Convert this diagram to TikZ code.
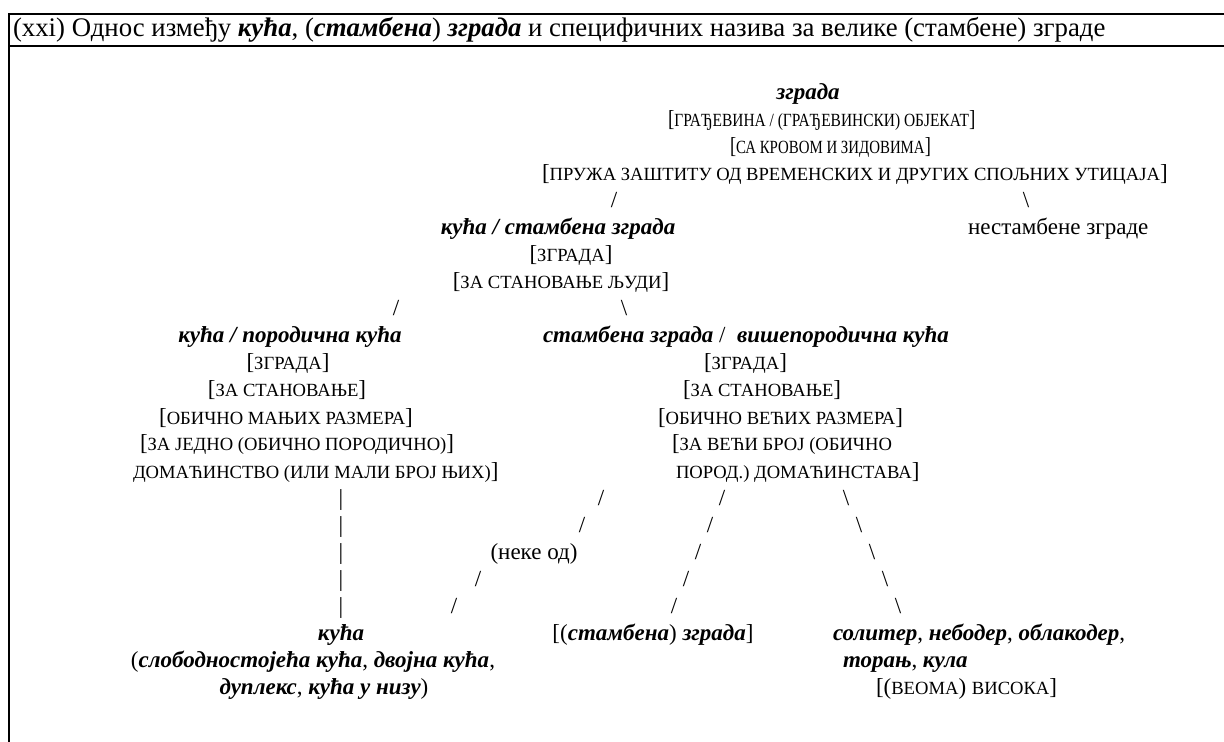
\documentclass[tikz,border=0pt]{standalone}
\usepackage{fontspec}
\setmainfont{Liberation Serif}[Script=Cyrillic,Language=Serbian]
\newcommand\smc[1]{{\fontsize{9.3}{11}\selectfont #1}}
\newcommand\bi[1]{{\bfseries\itshape #1}}
\tikzset{
  txt/.style={inner sep=0pt, outer sep=0pt, font=\fontsize{11.5}{13.5}\selectfont},
  bw/.style={txt, anchor=base west},
  bc/.style={txt, anchor=base},
  frame/.style={line width=1pt, line cap=rect}
}
\begin{document}
\begin{tikzpicture}[x=0.5pt,y=-0.5pt]
\useasboundingbox (0,0) rectangle (1224,742);
% frame
\draw[frame] (1224,14) -- (9,14) -- (9,742);
\draw[frame] (9,46) -- (1224,46);
% title
\node[bw, font=\fontsize{13.4}{15}\selectfont] (title) at (13,37) {(xxi) Однос између \bi{кућа}, (\bi{стамбена}) \bi{зграда} и специфичних назива за велике (стамбене) зграде};
% top block
\node[bc] (zgr) at (808,100) {\bi{зграда}};
\node[bw] (zgr1) at (668,127) {\scalebox{0.83}[1]{[\smc{ГРАЂЕВИНА / (ГРАЂЕВИНСКИ) ОБЈЕКАТ}]}};
\node[bw] (zgr2) at (730,154) {\scalebox{0.8}[1]{[\smc{СА КРОВОМ И ЗИДОВИМА}]}};
\node[bw] (zgr3) at (542,181) {[\smc{ПРУЖА ЗАШТИТУ ОД ВРЕМЕНСКИХ И ДРУГИХ СПОЉНИХ УТИЦАЈА}]};
\node[bc] (s1) at (614,208) {/};
\node[bc] (s2) at (1026,208) {\textbackslash};
% second level
\node[bc] (ks) at (558,235) {\bi{кућа / стамбена зграда}};
\node[bw] (nz) at (968,235) {нестамбене зграде};
\node[bc] (ks1) at (571,262) {[\smc{ЗГРАДА}]};
\node[bc] (ks2) at (561,289) {[\smc{ЗА СТАНОВАЊЕ ЉУДИ}]};
\node[bc] (s3) at (396,316) {/};
\node[bc] (s4) at (624,316) {\textbackslash};
% third level
\node[bc] (pk) at (290,343) {\bi{кућа / породична кућа}};
\node[bw] (sz) at (543,343) {\bi{стамбена зграда} /\ \ \bi{вишепородична кућа}};
\node[bc] (pk1) at (288,370) {[\smc{ЗГРАДА}]};
\node[bc] (pk2) at (287,397) {[\smc{ЗА СТАНОВАЊЕ}]};
\node[bc] (pk3) at (286,424) {[\smc{ОБИЧНО МАЊИХ РАЗМЕРА}]};
\node[bw] (pk4) at (140,451) {[\smc{ЗА ЈЕДНО (ОБИЧНО ПОРОДИЧНО)}]};
\node[bw] (pk5) at (133,478) {\smc{ДОМАЋИНСТВО (ИЛИ МАЛИ БРОЈ ЊИХ)}]};
\node[bw] (sz1) at (704,370) {[\smc{ЗГРАДА}]};
\node[bw] (sz2) at (683,397) {[\smc{ЗА СТАНОВАЊЕ}]};
\node[bw] (sz3) at (658,424) {[\smc{ОБИЧНО ВЕЋИХ РАЗМЕРА}]};
\node[bw] (sz4) at (672,451) {[\smc{ЗА ВЕЋИ БРОЈ (ОБИЧНО}};
\node[bw] (sz5) at (676,478) {\smc{ПОРОД.) ДОМАЋИНСТАВА}]};
% vertical bars
\foreach \yy/\nm in {505/a,532/b,559/c,586/d,613/e}
  \node[bc] (v\nm) at (341,\yy) {|};
% column 1
\node[bc] (c1a) at (601,505) {/};
\node[bc] (c1b) at (582,532) {/};
\node[bc] (neke) at (534,559) {(неке од)};
\node[bc] (c1d) at (478,586) {/};
\node[bc] (c1e) at (454,613) {/};
% column 2
\node[bc] (c2a) at (722,505) {/};
\node[bc] (c2b) at (710,532) {/};
\node[bc] (c2c) at (698,559) {/};
\node[bc] (c2d) at (686,586) {/};
\node[bc] (c2e) at (674,613) {/};
% column 3
\node[bc] (c3a) at (846,505) {\textbackslash};
\node[bc] (c3b) at (859,532) {\textbackslash};
\node[bc] (c3c) at (872,559) {\textbackslash};
\node[bc] (c3d) at (885,586) {\textbackslash};
\node[bc] (c3e) at (898,613) {\textbackslash};
% bottom
\node[bc] (k0) at (341,640) {\bi{кућа}};
\node[bc] (k1) at (313,667) {(\bi{слободностојећа кућа}, \bi{двојна кућа},};
\node[bc] (k2) at (324,694) {\bi{дуплекс}, \bi{кућа у низу})};
\node[bc] (st) at (653,640) {[(\bi{стамбена}) \bi{зграда}]};
\node[bw] (so1) at (833,640) {\bi{солитер}, \bi{небодер}, \bi{облакодер},};
\node[bw] (so2) at (843,667) {\bi{торањ}, \bi{кула}};
\node[bw] (so3) at (876,694) {[(\smc{ВЕОМА}) \smc{ВИСОКА}]};
\end{tikzpicture}
\end{document}
